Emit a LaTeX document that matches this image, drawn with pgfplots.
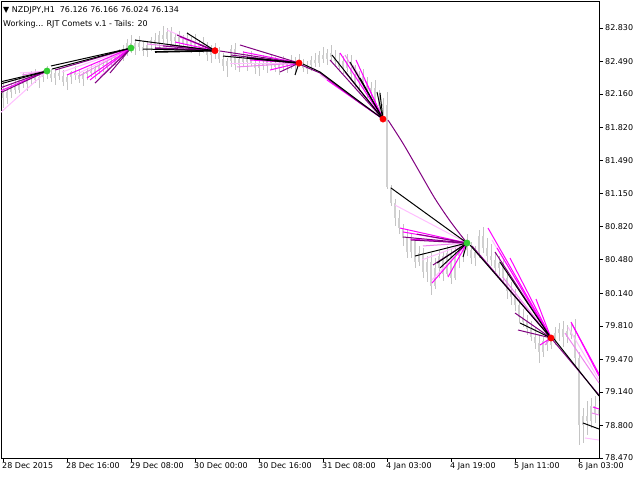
\documentclass[border=0pt]{standalone}
\usepackage{fontspec}
\setmainfont{DejaVu Sans}
\usepackage{pgfplots}
\usepackage{pgfplotstable}
\pgfplotsset{compat=1.18}
\definecolor{cpurple}{RGB}{128,0,128}
\definecolor{cmagenta}{RGB}{255,0,255}
\definecolor{cviolet}{RGB}{238,130,238}
\definecolor{cpink}{RGB}{255,190,255}
\definecolor{candle}{RGB}{196,196,196}
\definecolor{candlebody}{RGB}{208,208,208}
\definecolor{dotgreen}{RGB}{50,205,50}
\definecolor{dotred}{RGB}{255,0,0}
\pgfplotsset{
 blk/.style={black, line width=1bp},
 pur/.style={cpurple, line width=1bp},
 mag/.style={cmagenta, line width=1bp},
 vio/.style={cviolet, line width=1bp},
 pnk/.style={cpink, line width=1bp},
}
\pgfplotstableread{
t o h l c
0 82.20 82.28 82.02 82.12
1 82.12 82.22 82.06 82.18
2 82.18 82.27 82.12 82.24
3 82.24 82.30 82.16 82.20
4 82.20 82.33 82.17 82.30
5 82.30 82.38 82.22 82.26
6 82.26 82.34 82.19 82.31
7 82.31 82.40 82.25 82.35
8 82.35 82.42 82.27 82.30
9 82.30 82.37 82.22 82.33
10 82.33 82.41 82.28 82.38
11 82.38 82.44 82.31 82.36
12 82.36 82.42 82.28 82.32
13 82.32 82.40 82.25 82.37
14 82.37 82.43 82.30 82.34
15 82.34 82.41 82.24 82.28
16 82.28 82.36 82.20 82.33
17 82.33 82.40 82.26 82.38
18 82.38 82.44 82.30 82.35
19 82.35 82.41 82.27 82.31
20 82.31 82.38 82.24 82.36
21 82.36 82.43 82.30 82.40
22 82.40 82.46 82.33 82.37
23 82.37 82.45 82.31 82.42
24 82.42 82.50 82.36 82.46
25 82.46 82.52 82.39 82.44
26 82.44 82.53 82.40 82.50
27 82.50 82.57 82.43 82.48
28 82.48 82.58 82.45 82.55
29 82.55 82.62 82.49 82.53
30 82.53 82.66 82.50 82.62
31 82.62 82.72 82.55 82.68
32 82.68 82.76 82.58 82.63
33 82.63 82.72 82.56 82.68
34 82.68 82.75 82.60 82.64
35 82.64 82.70 82.55 82.60
36 82.60 82.69 82.54 82.66
37 82.66 82.74 82.60 82.71
38 82.71 82.78 82.63 82.67
39 82.67 82.80 82.62 82.76
40 82.76 82.85 82.68 82.72
41 82.72 82.83 82.65 82.79
42 82.79 82.84 82.66 82.70
43 82.70 82.78 82.62 82.74
44 82.74 82.80 82.64 82.68
45 82.68 82.76 82.61 82.72
46 82.72 82.79 82.63 82.66
47 82.66 82.74 82.58 82.70
48 82.70 82.77 82.60 82.64
49 82.64 82.71 82.55 82.67
50 82.67 82.74 82.58 82.62
51 82.62 82.69 82.50 82.56
52 82.56 82.66 82.48 82.60
53 82.60 82.68 82.52 82.58
54 82.58 82.64 82.48 82.52
55 82.52 82.58 82.40 82.45
56 82.45 82.53 82.33 82.50
57 82.50 82.66 82.44 82.62
58 82.62 82.68 82.40 82.46
59 82.46 82.55 82.38 82.52
60 82.52 82.60 82.45 82.49
61 82.49 82.57 82.40 82.54
62 82.54 82.60 82.44 82.47
63 82.47 82.55 82.36 82.42
64 82.42 82.52 82.34 82.48
65 82.48 82.56 82.41 82.45
66 82.45 82.53 82.37 82.50
67 82.50 82.57 82.42 82.46
68 82.46 82.54 82.38 82.43
69 82.43 82.51 82.35 82.48
70 82.48 82.55 82.40 82.44
71 82.44 82.52 82.37 82.49
72 82.49 82.56 82.42 82.46
73 82.46 82.54 82.38 82.50
74 82.50 82.57 82.44 82.47
75 82.47 82.52 82.38 82.42
76 82.42 82.50 82.36 82.46
77 82.46 82.55 82.40 82.51
78 82.51 82.58 82.44 82.48
79 82.48 82.60 82.43 82.56
80 82.56 82.64 82.48 82.52
81 82.52 82.62 82.46 82.58
82 82.58 82.66 82.50 82.54
83 82.54 82.61 82.45 82.50
84 82.50 82.58 82.40 82.44
85 82.44 82.55 82.36 82.50
86 82.50 82.57 82.38 82.42
87 82.42 82.56 82.30 82.36
88 82.36 82.45 82.22 82.28
89 82.28 82.40 82.18 82.34
90 82.34 82.42 82.20 82.25
91 82.25 82.33 82.12 82.18
92 82.18 82.28 82.08 82.22
93 82.22 82.30 82.05 82.10
94 82.10 82.20 81.98 82.04
95 82.04 82.12 81.95 82.06
96 82.05 82.18 81.20 81.22
97 81.22 81.24 81.03 81.06
98 81.06 81.10 80.82 80.90
99 80.90 80.98 80.74 80.80
100 80.80 80.84 80.62 80.70
101 80.70 80.78 80.50 80.56
102 80.56 80.74 80.50 80.68
103 80.68 80.70 80.40 80.46
104 80.46 80.62 80.42 80.55
105 80.55 80.60 80.30 80.36
106 80.36 80.52 80.25 80.46
107 80.46 80.55 80.12 80.22
108 80.22 80.50 80.18 80.40
109 80.40 80.58 80.30 80.52
110 80.52 80.56 80.27 80.34
111 80.34 80.62 80.32 80.55
112 80.55 80.59 80.24 80.30
113 80.30 80.62 80.28 80.52
114 80.52 80.66 80.40 80.60
115 80.60 80.70 80.46 80.64
116 80.64 80.74 80.52 80.58
117 80.58 80.66 80.44 80.50
118 80.50 80.62 80.42 80.56
119 80.56 80.78 80.50 80.72
120 80.72 80.81 80.55 80.60
121 80.60 80.70 80.46 80.52
122 80.52 80.64 80.42 80.48
123 80.48 80.56 80.36 80.40
124 80.40 80.52 80.32 80.45
125 80.45 80.50 80.25 80.30
126 80.30 80.38 80.08 80.16
127 80.16 80.26 80.02 80.10
128 80.10 80.18 79.96 80.02
129 80.02 80.08 79.84 79.90
130 79.90 79.98 79.80 79.85
131 79.85 79.92 79.72 79.78
132 79.78 79.86 79.66 79.70
133 79.70 79.80 79.58 79.64
134 79.64 79.72 79.43 79.55
135 79.55 79.70 79.50 79.66
136 79.66 79.74 79.56 79.62
137 79.62 79.72 79.58 79.68
138 79.68 79.80 79.62 79.74
139 79.74 79.84 79.66 79.78
140 79.78 79.86 79.60 79.70
141 79.70 79.82 79.64 79.76
142 79.76 79.85 79.68 79.72
143 79.72 79.88 79.40 79.48
144 79.48 79.55 78.60 78.80
145 78.80 78.98 78.62 78.90
146 78.90 79.05 78.70 78.85
147 78.85 79.08 78.78 79.00
148 79.00 79.10 78.82 78.92
149 78.92 79.05 78.80 78.96
}\candles
\begin{document}
\begin{tikzpicture}
\path[use as bounding box] (0,0) rectangle (640bp,480bp);
\begin{axis}[
 at={(1bp,22bp)}, anchor=south west,
 scale only axis, width=598bp, height=457bp,
 xmin=-0.5, xmax=149, ymin=78.470, ymax=83.104,
 axis line style={black, line width=0.8bp},
 ytick={82.830,82.490,82.160,81.820,81.490,81.150,80.820,80.480,80.140,79.810,79.470,79.140,78.800,78.470},
 yticklabels={82.830,82.490,82.160,81.820,81.490,81.150,80.820,80.480,80.140,79.810,79.470,79.140,78.800,78.470},
 ytick pos=right, yticklabel pos=right,
 xtick={0,16,...,144},
 xticklabels={28 Dec 2015,28 Dec 16:00,29 Dec 08:00,30 Dec 00:00,30 Dec 16:00,31 Dec 08:00,4 Jan 03:00,4 Jan 19:00,5 Jan 11:00,6 Jan 03:00},
 xtick pos=bottom,
 tick align=outside, major tick length=4bp,
 tick style={black, line width=0.6bp},
 ticklabel style={font=\fontsize{8}{9.6}\selectfont},
 xticklabel style={anchor=north west, inner sep=0pt, xshift=-1bp},
 yticklabel style={anchor=west, inner sep=0pt, xshift=2bp},
 /pgf/number format/assume math mode=true,
]
% candles: wicks (high-low), then bodies (open-close)
\addplot[draw=none, mark=none, forget plot, error bars/.cd, y dir=both, y explicit, error mark=none, error bar style={draw=candle, line width=0.8bp}]
 table[x=t, y expr={(\thisrow{h}+\thisrow{l})/2}, y error expr={(\thisrow{h}-\thisrow{l})/2}] {\candles};
\addplot[draw=none, mark=none, forget plot, error bars/.cd, y dir=both, y explicit, error mark=none, error bar style={draw=candlebody, line width=2.4bp}]
 table[x=t, y expr={(\thisrow{o}+\thisrow{c})/2}, y error expr={abs(\thisrow{o}-\thisrow{c})/2}] {\candles};

% fan D1 (bar 11)
\addplot[pnk] coordinates {(-0.75,81.968) (11,82.394)};
\addplot[pnk] coordinates {(4.25,82.374) (11,82.394)};
\addplot[vio] coordinates {(4.75,82.354) (11,82.394)};
\addplot[mag] coordinates {(-0.75,82.191) (11,82.394)};
\addplot[pur] coordinates {(-0.75,82.222) (11,82.394)};
\addplot[pur] coordinates {(-0.75,82.171) (11,82.394)};
\addplot[blk] coordinates {(-0.75,82.283) (11,82.394)};
\addplot[blk] coordinates {(-0.75,82.262) (11,82.394)};

% fan D2 (bar 32)
\addplot[pnk] coordinates {(14.75,82.384) (32,82.627)};
\addplot[pnk] coordinates {(18,82.354) (32,82.627)};
\addplot[vio] coordinates {(19,82.343) (32,82.627)};
\addplot[vio] coordinates {(24.25,82.333) (32,82.627)};
\addplot[mag] coordinates {(16,82.354) (32,82.627)};
\addplot[mag] coordinates {(21,82.323) (32,82.627)};
\addplot[mag] coordinates {(21.75,82.303) (32,82.627)};
\addplot[pur] coordinates {(13,82.404) (32,82.627)};
\addplot[pur] coordinates {(23,82.272) (32,82.627)};
\addplot[pur] coordinates {(26.75,82.374) (32,82.627)};
\addplot[blk] coordinates {(12,82.445) (32,82.627)};
\addplot[blk] coordinates {(12.25,82.414) (32,82.627)};

% fan D3 (bar 53)
\addplot[pnk] coordinates {(41,82.810) (53,82.600)};
\addplot[vio] coordinates {(36,82.668) (53,82.600)};
\addplot[mag] coordinates {(44.25,82.739) (53,82.600)};
\addplot[mag] coordinates {(43,82.688) (53,82.600)};
\addplot[mag] coordinates {(50.5,82.637) (53,82.600)};
\addplot[pur] coordinates {(43.5,82.759) (53,82.600)};
\addplot[pur, line width=1.6bp] coordinates {(38,82.627) (53,82.600)};
\addplot[pur] coordinates {(40,82.648) (53,82.600)};
\addplot[pur] coordinates {(41.75,82.658) (53,82.600)};
\addplot[pur] coordinates {(49.25,82.658) (53,82.600)};
\addplot[blk] coordinates {(33,82.708) (53,82.600)};
\addplot[blk] coordinates {(46,82.779) (53,82.600)};
\addplot[blk, line width=1.6bp] coordinates {(38,82.587) (53,82.600)};
\addplot[blk] coordinates {(35,82.617) (53,82.600)};

% fan D4 (bar 74)
\addplot[pnk] coordinates {(56.75,82.475) (74,82.475)};
\addplot[vio] coordinates {(58.5,82.435) (74,82.475)};
\addplot[mag] coordinates {(60,82.587) (74,82.475)};
\addplot[mag] coordinates {(61.75,82.506) (74,82.475)};
\addplot[mag] coordinates {(66.75,82.404) (74,82.475)};
\addplot[pur] coordinates {(54.25,82.597) (74,82.475)};
\addplot[pur] coordinates {(59.25,82.658) (74,82.475)};
\addplot[pur] coordinates {(57,82.556) (74,82.475)};
\addplot[pur] coordinates {(69.25,82.384) (74,82.475)};
\addplot[blk] coordinates {(55,82.546) (74,82.475)};
\addplot[blk, line width=1.6bp] coordinates {(61,82.526) (74,82.475)};
\addplot[blk] coordinates {(73,82.354) (74,82.475)};

% fan D5 (bar 95)
\addplot[pnk] coordinates {(77.5,82.425) (95,81.907)};
\addplot[pnk] coordinates {(79.25,82.354) (95,81.907)};
\addplot[vio] coordinates {(85.5,82.556) (95,81.907)};
\addplot[vio] coordinates {(87.5,82.450) (95,81.907)};
\addplot[mag] coordinates {(84.25,82.577) (95,81.907)};
\addplot[mag] coordinates {(88.25,82.506) (95,81.907)};
\addplot[mag] coordinates {(81,82.303) (95,81.907)};
\addplot[mag] coordinates {(90.5,82.303) (95,81.907)};
\addplot[pur] coordinates {(81.75,82.506) (95,81.907)};
\addplot[pur] coordinates {(85.5,82.384) (95,81.907)};
\addplot[pur] coordinates {(74,82.465) (79.25,82.374) (84.25,82.222) (89.25,82.070) (95,81.907)};
\addplot[blk] coordinates {(75,82.465) (79.25,82.384) (84.25,82.232) (89.25,82.080) (95,81.907)};
\addplot[blk] coordinates {(82.25,82.556) (95,81.907)};
\addplot[blk] coordinates {(86.75,82.485) (95,81.907)};
\addplot[blk] coordinates {(89.25,82.323) (95,81.907)};
\addplot[blk] coordinates {(93.5,82.181) (95,81.907)};
\addplot[blk] coordinates {(94.25,82.171) (95,81.907)};

% fan D6 (bar 116)
\addplot[pnk] coordinates {(98,81.035) (116,80.650)};
\addplot[pnk] coordinates {(104.75,80.478) (116,80.650)};
\addplot[pnk] coordinates {(107.25,80.275) (116,80.650)};
\addplot[vio] coordinates {(105,80.620) (116,80.650)};
\addplot[mag] coordinates {(99.25,80.802) (116,80.650)};
\addplot[mag] coordinates {(100,80.762) (116,80.650)};
\addplot[mag] coordinates {(101.75,80.690) (116,80.650)};
\addplot[mag] coordinates {(107.25,80.244) (116,80.650)};
\addplot[mag] coordinates {(111.25,80.305) (116,80.650)};
\addplot[pur] coordinates {(100,80.711) (116,80.650)};
\addplot[pur] coordinates {(102,80.680) (116,80.650)};
\addplot[pur] coordinates {(103.5,80.740) (116,80.650)};
\addplot[pur] coordinates {(107.5,80.427) (116,80.650)};
\addplot[pur, smooth] coordinates {(96.25,81.897) (100,81.660) (104,81.380) (108,81.100) (112,80.860) (116,80.650)};
\addplot[blk] coordinates {(97,81.208) (116,80.650)};
\addplot[blk] coordinates {(103,80.518) (116,80.650)};
\addplot[blk] coordinates {(108.5,80.447) (116,80.650)};
\addplot[blk] coordinates {(109.25,80.397) (116,80.650)};
\addplot[blk] coordinates {(115,80.508) (116,80.650)};

% fan D7 (bar 137)
\addplot[pnk] coordinates {(118.5,80.549) (137,79.687)};
\addplot[pnk] coordinates {(122.25,80.680) (137,79.687)};
\addplot[vio] coordinates {(119.25,80.528) (137,79.687)};
\addplot[vio] coordinates {(125,80.300) (137,79.687)};
\addplot[vio] coordinates {(135.5,79.616) (137,79.687)};
\addplot[mag] coordinates {(121.25,80.802) (137,79.687)};
\addplot[mag] coordinates {(123.5,80.600) (137,79.687)};
\addplot[mag] coordinates {(126.75,80.498) (137,79.687)};
\addplot[mag] coordinates {(133.25,80.082) (137,79.687)};
\addplot[mag] coordinates {(134.25,79.616) (137,79.687)};
\addplot[pur] coordinates {(117.25,80.620) (137,79.687)};
\addplot[pur] coordinates {(123,80.559) (137,79.687)};
\addplot[pur] coordinates {(128,79.940) (137,79.687)};
\addplot[pur] coordinates {(128.75,79.768) (137,79.687)};
\addplot[blk] coordinates {(116.75,80.630) (137,79.687)};
\addplot[blk] coordinates {(124.25,80.457) (137,79.687)};
\addplot[blk] coordinates {(129.25,79.839) (137,79.687)};

% fan D8 (beyond the right edge)
\addplot[pnk] coordinates {(141.25,79.798) (149,79.261)};
\addplot[pnk] coordinates {(145.5,78.673) (149,78.652)};
\addplot[vio] coordinates {(140.5,79.737) (149,79.230)};
\addplot[vio] coordinates {(147.25,78.926) (149,78.906)};
\addplot[mag] coordinates {(142.25,79.829) (149,79.301)};
\addplot[mag] coordinates {(142,79.849) (149,79.322)};
\addplot[mag] coordinates {(147.5,78.987) (149,78.967)};
\addplot[pur] coordinates {(137,79.687) (149,79.109)};
\addplot[blk] coordinates {(137.5,79.690) (149,79.099)};
\addplot[blk] coordinates {(145,78.825) (149,78.764)};

% signal dots
\addplot[only marks, mark=*, mark size=3.2bp, draw=dotgreen, fill=dotgreen] coordinates {(11,82.394) (32,82.627) (116,80.650)};
\addplot[only marks, mark=*, mark size=3.2bp, draw=dotred, fill=dotred] coordinates {(53,82.600) (74,82.475) (95,81.907) (137,79.687)};
\end{axis}
\node[anchor=base west, inner sep=0pt, font=\fontsize{8}{9.6}\selectfont] at (3bp,467bp) {▼ NZDJPY,H1\ \ 76.126 76.166 76.024 76.134};
\node[anchor=base west, inner sep=0pt, font=\fontsize{8}{9.6}\selectfont] at (3bp,453bp) {Working... RJT Comets v.1 - Tails: 20};
\end{tikzpicture}
\end{document}
